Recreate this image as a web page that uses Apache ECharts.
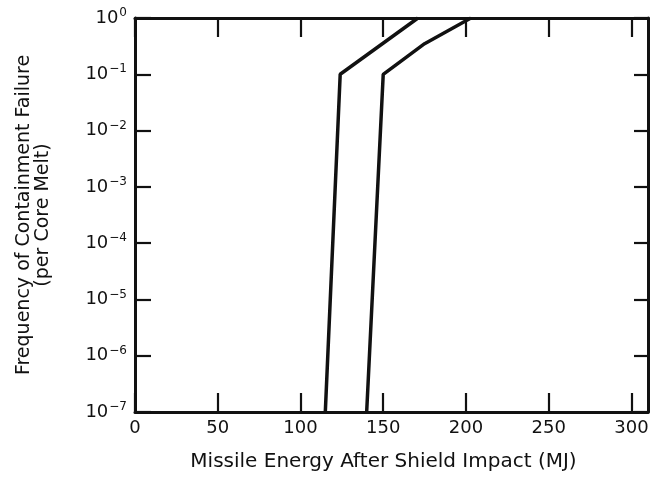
<!DOCTYPE html>
<html>
<head>
<meta charset="utf-8">
<script src="https://cdn.jsdelivr.net/npm/echarts@6/dist/echarts.min.js"></script>
<style>
  html, body { margin: 0; padding: 0; background: #fff; }
  #cnv { width: 654px; height: 479px; }
</style>
</head>
<body>
<div id="cnv"></div>
<script>
// energy (MJ) vs frequency, two bounding curves
var lowerEnergy = [115, 124, 171];
var lowerFreq = [1e-7, 1e-1, 1e0];
var upperEnergy = [140, 150, 175, 203];
var upperFreq = [1e-7, 1e-1, 3.5e-1, 1e0];
var xTicks = [0, 50, 100, 150, 200, 250, 300];
var yExponents = [-7, -6, -5, -4, -3, -2, -1, 0];

function pairs(xs, ys) {
    var out = [];
    for (var i = 0; i < xs.length; i++) out.push([xs[i], ys[i]]);
    return out;
}

var font = 'DejaVu Sans';
var ink = '#111';

function supLabel(v) {
    var e = Math.round(Math.log10(v));
    var s = e === 0 ? '0' : '\u2212' + (-e);
    return '{b|10}{s|' + s + '}';
}

var yTickValues = yExponents.map(function (e) { return Math.pow(10, e); });

var main = document.getElementById("cnv");
var myechart = echarts.init(main, null, { renderer: 'canvas' });
var option = {
    animation: false,
    grid: { left: 135, right: 6, top: 18, bottom: 67 },
    xAxis: [{
        type: 'value', position: 'bottom', min: 0, max: 310, interval: 50,
        axisLine: { onZero: false, lineStyle: { color: ink, width: 3 } },
        axisTick: { inside: true, length: 19, customValues: xTicks, lineStyle: { color: ink, width: 2.2 } },
        axisLabel: { color: ink, fontFamily: font, fontSize: 18, margin: 7, customValues: xTicks },
        splitLine: { show: false },
        name: 'Missile Energy After Shield Impact (MJ)',
        nameLocation: 'middle', nameGap: 40,
        nameTextStyle: { color: ink, fontFamily: font, fontSize: 20, padding: [0, 16, 0, 0] }
    }, {
        type: 'value', position: 'top', min: 0, max: 310, interval: 50,
        axisLine: { onZero: false, lineStyle: { color: ink, width: 3 } },
        axisTick: { inside: true, length: 19, customValues: xTicks, lineStyle: { color: ink, width: 2.2 } },
        axisLabel: { show: false },
        splitLine: { show: false }
    }],
    yAxis: [{
        type: 'log', logBase: 10, min: 1e-7, max: 1, interval: 1, position: 'left',
        axisLine: { onZero: false, lineStyle: { color: ink, width: 3 } },
        axisTick: { inside: true, length: 16, customValues: yTickValues, lineStyle: { color: ink, width: 2.2 } },
        minorTick: { show: false },
        axisLabel: {
            margin: 8, formatter: supLabel, customValues: yTickValues,
            rich: {
                b: { color: ink, fontFamily: font, fontSize: 18 },
                s: { color: ink, fontFamily: font, fontSize: 12, verticalAlign: 'bottom', padding: [0, 0, 10, 1] }
            }
        },
        splitLine: { show: false },
        name: 'Frequency of Containment Failure\n(per Core Melt)',
        nameLocation: 'middle', nameGap: 82,
        nameTextStyle: { color: ink, fontFamily: font, fontSize: 19, lineHeight: 19 }
    }, {
        type: 'value', min: yExponents[0], max: yExponents[yExponents.length - 1], interval: 1, position: 'right',
        axisLine: { onZero: false, lineStyle: { color: ink, width: 3 } },
        axisTick: { show: true, inside: true, length: 14, lineStyle: { color: ink, width: 2.2 } },
        axisLabel: { show: false },
        splitLine: { show: false }
    }],
    series: [{
        type: 'line', xAxisIndex: 0, yAxisIndex: 0,
        data: pairs(lowerEnergy, lowerFreq),
        showSymbol: false, lineStyle: { color: ink, width: 3.5 }
    }, {
        type: 'line', xAxisIndex: 0, yAxisIndex: 0,
        data: pairs(upperEnergy, upperFreq),
        showSymbol: false, lineStyle: { color: ink, width: 3.5 }
    }]
};
//draw
myechart.setOption(option);
</script>
</body>
</html>
